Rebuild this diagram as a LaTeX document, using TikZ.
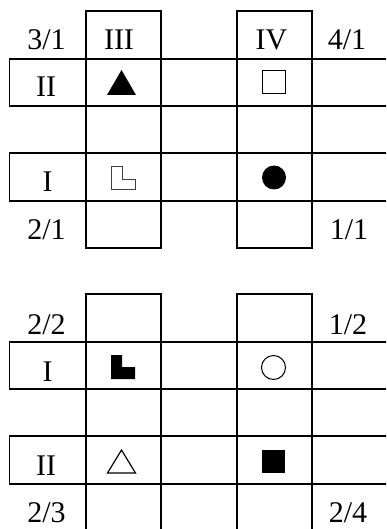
\documentclass[tikz,border=0pt]{standalone}
\usepackage{fontspec}
\setmainfont{Liberation Serif}
\begin{document}
\begin{tikzpicture}[x=1pt,y=-1pt,
    grid/.style={line width=1.9pt},
    lbl/.style={anchor=base,inner sep=0pt,font=\fontsize{30}{36}\selectfont},
    sym/.style={line width=1pt}]
    \useasboundingbox (0,0) rectangle (386,529);
    \clip (0,0) rectangle (386,529);

    % Crosses (upper and lower)
    \foreach \y in {11,294} {
        \draw[grid] (86,\y) rectangle (161,\y+237);
        \draw[grid] (237,\y) rectangle (312,\y+237);
        \draw[grid] (9.5,\y+48) rectangle (392,\y+95);
        \draw[grid] (9.5,\y+142) rectangle (392,\y+190);
    }

    % Upper labels
    \node[lbl] (q31) at (46.5,50) {3/1};
    \node[lbl] (up3) at (119,50) {III};
    \node[lbl] (up4) at (271.5,50) {IV};
    \node[lbl] (q41) at (347,50) {4/1};
    \node[lbl] (up2) at (46,97) {II};
    \node[lbl] (up1) at (47.5,192) {I};
    \node[lbl] (q21) at (46.5,239) {2/1};
    \node[lbl] (q11) at (349,239) {1/1};

    % Upper symbols
    \fill (107,95) -- (136,95) -- (121.5,70) -- cycle;
    \draw[sym] (262,71) rectangle (285,94);
    \draw[sym, line width=0.8pt, black!75] (111,166) -- (122,166) -- (122,179)
        -- (135,179) -- (135,189) -- (111,189) -- cycle;
    \fill (274,177.5) circle (12);

    % Lower labels
    \node[lbl] (q22) at (46.5,334) {2/2};
    \node[lbl] (q12) at (348,334) {1/2};
    \node[lbl] (lo1) at (47.5,381) {I};
    \node[lbl] (lo2) at (46,475) {II};
    \node[lbl] (q23) at (46.5,522) {2/3};
    \node[lbl] (q24) at (348,522) {2/4};

    % Lower symbols
    \fill (111,355) -- (122,355) -- (122,367) -- (135,367) -- (135,379)
        -- (111,379) -- cycle;
    \draw[sym] (273.5,367.5) circle (12);
    \draw[sym, line width=1.2pt] (107.5,473) -- (135.5,473) -- (121.5,450) -- cycle;
    \fill (262,450) rectangle (285,473);
\end{tikzpicture}
\end{document}
